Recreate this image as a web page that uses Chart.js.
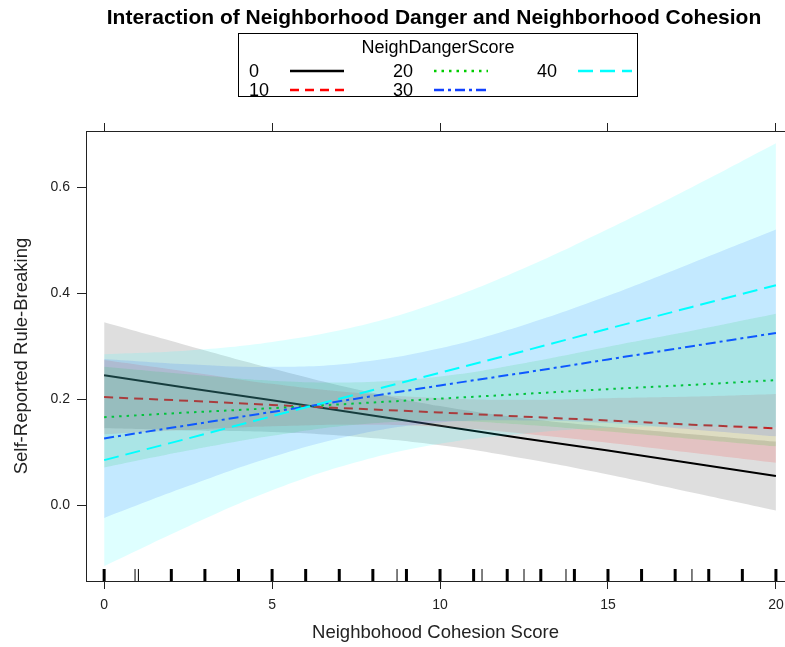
<!DOCTYPE html>
<html>
<head>
<meta charset="utf-8">
<script src="https://cdn.jsdelivr.net/npm/chart.js@4.4.0/dist/chart.umd.min.js"></script>
<style>
  body { margin: 0; background: #fff; font-family: "Liberation Sans", Arial, sans-serif; }
  #wrap { position: relative; width: 785px; height: 647px; }
  #chart { position: absolute; left: 0; top: 0; }
  #title { position: absolute; top: 5px; left: 434px; transform: translateX(-50%); white-space: nowrap; font-weight: bold; font-size: 21px; color: #000; }
  #legend { position: absolute; left: 238px; top: 33px; width: 400px; height: 64px; border: 1px solid #000; box-sizing: border-box; font-size: 18px; color: #000; }
  #legend .lt { position: absolute; left: 0; width: 100%; top: 3px; text-align: center; line-height: 21px; }
  #legend .lab { position: absolute; line-height: 21px; }
  #legend svg { position: absolute; }
</style>
</head>
<body>
<div id="wrap">
  <canvas id="chart" width="785" height="647"></canvas>
  <div id="title">Interaction of Neighborhood Danger and Neighborhood Cohesion</div>
  <div id="legend"><div class="lt">NeighDangerScore</div></div>
</div>
<script>
const cohesion = [0, 2.5, 5, 7.5, 10, 12.5, 15, 17.5, 20];
const dangerLevels = ['0', '10', '20', '30', '40'];

// fitted lines
const fit0  = [0.245, 0.221, 0.198, 0.174, 0.150, 0.126, 0.103, 0.079, 0.055];
const fit10 = [0.204, 0.197, 0.189, 0.182, 0.175, 0.167, 0.160, 0.152, 0.145];
const fit20 = [0.166, 0.175, 0.183, 0.192, 0.201, 0.210, 0.219, 0.227, 0.236];
const fit30 = [0.126, 0.151, 0.176, 0.201, 0.226, 0.250, 0.275, 0.300, 0.325];
const fit40 = [0.085, 0.126, 0.168, 0.209, 0.250, 0.291, 0.333, 0.374, 0.415];

// confidence bands
const lower0  = [0.145, 0.141, 0.138, 0.129, 0.113, 0.088, 0.058, 0.024, -0.010];
const upper0  = [0.345, 0.301, 0.258, 0.219, 0.187, 0.164, 0.148, 0.134, 0.120];
const lower10 = [0.134, 0.142, 0.149, 0.152, 0.148, 0.135, 0.118, 0.099, 0.080];
const upper10 = [0.274, 0.252, 0.229, 0.212, 0.202, 0.199, 0.202, 0.205, 0.210];
const lower20 = [0.071, 0.103, 0.131, 0.152, 0.159, 0.152, 0.139, 0.125, 0.111];
const upper20 = [0.261, 0.247, 0.235, 0.232, 0.243, 0.268, 0.299, 0.329, 0.361];
const lower30 = [-0.024, 0.036, 0.091, 0.133, 0.156, 0.160, 0.155, 0.143, 0.130];
const upper30 = [0.276, 0.266, 0.261, 0.269, 0.296, 0.340, 0.395, 0.457, 0.520];
const lower40 = [-0.115, -0.040, 0.028, 0.081, 0.116, 0.135, 0.146, 0.148, 0.147];
const upper40 = [0.285, 0.292, 0.308, 0.337, 0.384, 0.447, 0.521, 0.600, 0.683];

// observed cohesion scores (rug)
const rugThick = [0, 2, 3, 4, 5, 6, 7, 8, 9, 10, 11, 12, 13, 14, 15, 16, 17, 18, 19, 20];
const rugThin = [0.92, 1.02, 8.72, 11.25, 12.5, 13.75, 17.5];

const xTicks = [0, 5, 10, 15, 20];
const yTicks = [0, 0.2, 0.4, 0.6];

const fits = [fit0, fit10, fit20, fit30, fit40];
const lowers = [lower0, lower10, lower20, lower30, lower40];
const uppers = [upper0, upper10, upper20, upper30, upper40];
const colors = ['0,0,0', '255,0,0', '0,205,0', '16,64,255', '0,255,255'];
const dashes = [[], [9, 6], [2.5, 5], [10, 4, 3, 4], [15, 7]];

const pts = arr => arr.map((v, i) => ({ x: cohesion[i], y: v }));
const font = '"Liberation Sans", Arial, sans-serif';

const datasets = [];
let seq = 0;
fits.forEach((fit, k) => {
    const c = colors[k];
    datasets.push({
        data: pts(lowers[k]), borderWidth: 0, pointRadius: 0, fill: false,
        tension: 0.4, order: 200 - seq
    });
    datasets.push({
        data: pts(uppers[k]), borderWidth: 0, pointRadius: 0, fill: '-1',
        backgroundColor: `rgba(${c},0.13)`, tension: 0.4, order: 200 - seq
    });
    seq++;
    datasets.push({
        data: pts(fit), borderColor: `rgb(${c})`, borderWidth: 2,
        borderDash: dashes[k], pointRadius: 0, fill: false, order: 200 - seq
    });
    seq++;
});

// rug marks along the bottom of the panel
const rugPlugin = {
    id: 'rug',
    afterDatasetsDraw(chart) {
        const { ctx, chartArea, scales } = chart;
        ctx.save();
        ctx.strokeStyle = '#000';
        const draw = (vals, w) => {
            ctx.lineWidth = w;
            vals.forEach(v => {
                const px = scales.x.getPixelForValue(v);
                ctx.beginPath();
                ctx.moveTo(px, chartArea.bottom);
                ctx.lineTo(px, chartArea.bottom - 12);
                ctx.stroke();
            });
        };
        draw(rugThick, 3);
        draw(rugThin, 1);
        ctx.restore();
    }
};

const axisGrid = { display: true, drawOnChartArea: false, color: '#222', tickLength: 8, tickColor: '#222' };

new Chart(document.getElementById('chart'), {
    type: 'line',
    data: { datasets },
    plugins: [rugPlugin],
    options: {
        responsive: false,
        animation: false,
        layout: { padding: { top: 123, right: 0, bottom: 0, left: 0 } },
        plugins: {
            legend: { display: false },
            tooltip: { enabled: false },
            filler: { drawTime: 'beforeDatasetDraw' }
        },
        scales: {
            x: {
                type: 'linear', position: 'bottom', min: -0.54, max: 20.27,
                grid: axisGrid,
                border: { display: true, color: '#222', width: 1 },
                afterBuildTicks: s => { s.ticks = xTicks.map(v => ({ value: v })); },
                afterFit: s => { s.height = 66; s.paddingRight = 0; s.paddingLeft = 0; },
                ticks: { color: '#222', padding: 8, font: { family: font, size: 14 }, maxRotation: 0, callback: v => String(v) },
                title: { display: true, text: 'Neighbohood Cohesion Score', color: '#222', font: { family: font, size: 18.5 }, padding: { top: 0, bottom: 3 } }
            },
            x2: {
                type: 'linear', position: 'top', min: -0.54, max: 20.27,
                grid: axisGrid,
                border: { display: true, color: '#222', width: 1 },
                afterBuildTicks: s => { s.ticks = xTicks.map(v => ({ value: v })); },
                afterFit: s => { s.height = 8; s.paddingRight = 0; s.paddingLeft = 0; },
                ticks: { display: false }
            },
            y: {
                type: 'linear', min: -0.143, max: 0.706,
                grid: Object.assign({}, axisGrid, { tickLength: 9 }),
                border: { display: true, color: '#222', width: 1 },
                afterBuildTicks: s => { s.ticks = yTicks.map(v => ({ value: v })); },
                afterFit: s => { s.width = 86; },
                ticks: { color: '#222', padding: 7, font: { family: font, size: 14 }, callback: v => v.toFixed(1) },
                title: { display: true, text: 'Self-Reported Rule-Breaking', color: '#222', font: { family: font, size: 18.5 }, padding: { top: 11, bottom: 0 } }
            }
        }
    }
});

// legend: three columns, two rows
const legend = document.getElementById('legend');
const labelLeft = [10, 154, 298];
const sampleLeft = [51, 195, 339];
const rowTop = [27, 46];
dangerLevels.forEach((lvl, k) => {
    const col = Math.floor(k / 2), row = k % 2;
    const lab = document.createElement('div');
    lab.className = 'lab';
    lab.textContent = lvl;
    lab.style.left = labelLeft[col] + 'px';
    lab.style.top = rowTop[row] + 'px';
    legend.appendChild(lab);
    const svg = document.createElementNS('http://www.w3.org/2000/svg', 'svg');
    svg.setAttribute('width', 54);
    svg.setAttribute('height', 6);
    svg.style.left = sampleLeft[col] + 'px';
    svg.style.top = (rowTop[row] + 7) + 'px';
    const ln = document.createElementNS('http://www.w3.org/2000/svg', 'line');
    ln.setAttribute('x1', 0); ln.setAttribute('x2', 54);
    ln.setAttribute('y1', 3); ln.setAttribute('y2', 3);
    ln.setAttribute('stroke', `rgb(${colors[k]})`);
    ln.setAttribute('stroke-width', 2.5);
    if (dashes[k].length) ln.setAttribute('stroke-dasharray', dashes[k].join(' '));
    svg.appendChild(ln);
    legend.appendChild(svg);
});
</script>
</body>
</html>
